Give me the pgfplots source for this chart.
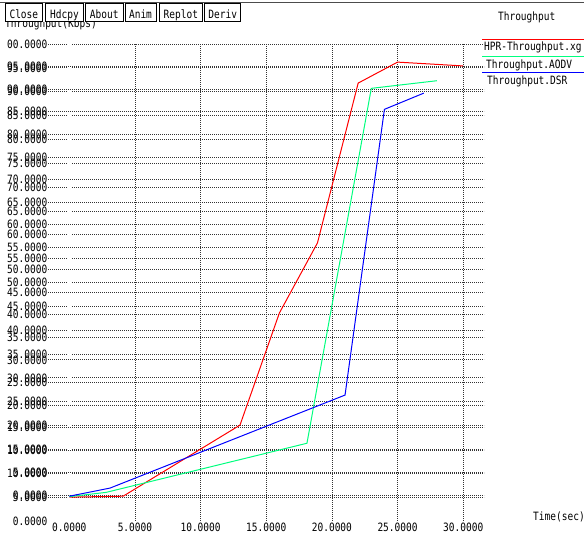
\documentclass[border=0pt]{standalone}
\usepackage{fontspec}
\setmonofont[FakeStretch=0.83]{DejaVu Sans Mono}
\usepackage{pgfplots}
\pgfplotsset{compat=1.18}

\definecolor{xgred}{RGB}{255,0,0}
\definecolor{xggreen}{RGB}{0,255,127}
\definecolor{xgblue}{RGB}{0,0,255}
\newcommand\xgfont{\ttfamily\fontsize{11.5}{12}\selectfont}

% throughput traces: time (s) vs throughput (Kbps)
\pgfplotstableread{
t     thr
0.0   5.0
4.1   5.2
13.0  20.1
16.0  43.6
18.9  58.3
22.0  91.8
25.0  96.2
30.0  95.4
}\hprdata
\pgfplotstableread{
t     thr
0.0   5.1
2.8   6.0
18.1  16.3
23.0  90.7
28.0  92.3
}\aodvdata
\pgfplotstableread{
t     thr
0.0   5.2
3.1   6.9
21.0  26.4
24.0  86.3
27.0  89.7
}\dsrdata

\begin{document}
\begin{tikzpicture}[x=1bp,y=1bp]
\useasboundingbox (0,0) rectangle (584,535);
\fill[white] (0,0) rectangle (584,535);

\begin{axis}[
  at={(48bp,14bp)}, anchor=south west,
  width=436bp, height=477bp, scale only axis,
  xmin=-1.622, xmax=31.584, ymin=0, ymax=100,
  axis line style={draw=none},
  major tick length=0pt,
  grid=major,
  major grid style={black!80, line width=0.8bp, dash pattern=on 1bp off 1bp},
  xtick={5,10,...,30},
  ytick={5,10,...,100},
  extra x ticks={0},
  extra x tick style={major grid style={white, line width=4bp, solid}},
  extra y ticks={5.41,10.14,14.87,19.59,24.32,29.05,33.78,38.50,43.23,47.96,
                 52.69,57.41,62.14,66.87,71.60,76.32,81.05,85.78,90.51,95.23},
  extra y tick labels={0.0000,5.0000,10.0000,15.0000,20.0000,25.0000,30.0000,
                 35.0000,40.0000,45.0000,50.0000,55.0000,60.0000,65.0000,
                 70.0000,75.0000,80.0000,85.0000,90.0000,95.0000},
  /pgf/number format/.cd, fixed, fixed zerofill, precision=4,
    assume math mode=true, 1000 sep={},
  /pgfplots/.cd,
  yticklabel style={anchor=east, inner sep=0pt, xshift=-0.5bp, font=\xgfont},
  xticklabel style={anchor=north, inner sep=0pt, yshift=-2bp, font=\xgfont},
  clip=false,
]
\addplot[xgred, line width=1bp] table[x=t, y=thr] {\hprdata};
\addplot[xggreen, line width=1bp] table[x=t, y=thr] {\aodvdata};
\addplot[xgblue, line width=1bp] table[x=t, y=thr] {\dsrdata};
\node[anchor=east, inner sep=0pt, font=\xgfont, xshift=-0.5bp] at (rel axis cs:0,0) {0.0000};
\end{axis}

% left edge of the label column
\fill[white] (0,480) rectangle (7,500);

% axis captions
\node[anchor=base west, inner sep=0pt, font=\xgfont] at (5,507) {Throughput(Kbps)};
\node[anchor=base west, inner sep=0pt, font=\xgfont] at (533,14) {Time(sec)};

% button bar
\fill[white] (0,513) rectangle (584,535);
\draw[black!70, line width=1bp] (0,532.5) -- (584,532.5);
\foreach \xa/\xb/\lab in {5/42.7/Close, 45.7/83.3/Hdcpy, 85.3/123.3/About,
                          125/156/Anim, 159/202.7/Replot, 204.7/240.7/Deriv}{
  \draw[black, line width=1bp] (\xa,531) rectangle (\xb,513.3);
  \node[anchor=base, inner sep=0pt, font=\xgfont] at ({(\xa+\xb)/2},516.7) {\lab};
}

% legend
\node[anchor=base, inner sep=0pt, font=\xgfont] at (526.7,514.1) {Throughput};
\draw[xgred, line width=1bp] (482,495) -- (584,495);
\node[anchor=base west, inner sep=0pt, font=\xgfont] at (484,484) {HPR-Throughput.xg};
\draw[xggreen, line width=1bp] (482,478.3) -- (584,478.3);
\node[anchor=base west, inner sep=0pt, font=\xgfont] at (486,466.8) {Throughput.AODV};
\draw[xgblue, line width=1bp] (482,462.3) -- (584,462.3);
\node[anchor=base west, inner sep=0pt, font=\xgfont] at (487,450.1) {Throughput.DSR};
\end{tikzpicture}
\end{document}
